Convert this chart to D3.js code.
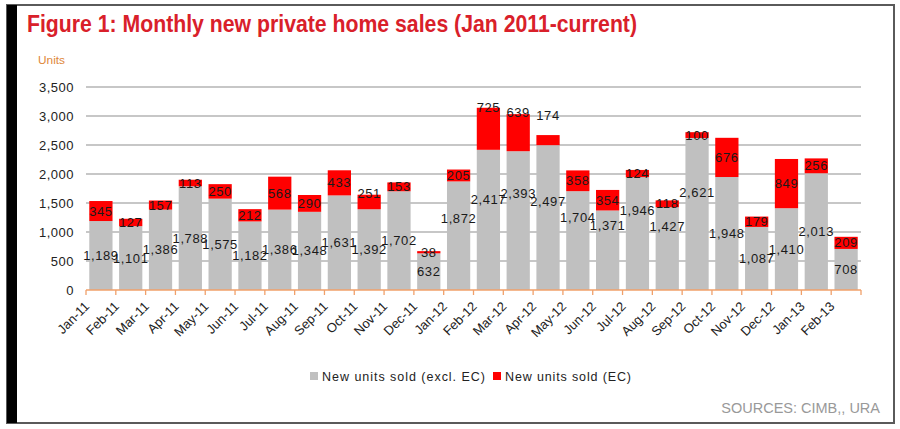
<!DOCTYPE html>
<html><head><meta charset="utf-8">
<script src="https://cdn.jsdelivr.net/npm/d3@7"></script>
<style>body{margin:0;background:#fff}svg{display:block}</style>
</head><body>
<svg id="c" width="900" height="429"></svg>
<script>
const months = ["Jan-11","Feb-11","Mar-11","Apr-11","May-11","Jun-11","Jul-11","Aug-11","Sep-11","Oct-11","Nov-11","Dec-11",
  "Jan-12","Feb-12","Mar-12","Apr-12","May-12","Jun-12","Jul-12","Aug-12","Sep-12","Oct-12","Nov-12","Dec-12","Jan-13","Feb-13"];
const exclEC = [1189,1101,1386,1788,1575,1182,1386,1348,1631,1392,1702,632,
  1872,2417,2393,2497,1704,1371,1946,1427,2621,1948,1087,1410,2013,708];
const ecUnits = [345,127,157,113,250,212,568,290,433,251,153,38,
  205,725,639,174,358,354,124,118,100,676,179,849,256,209];
const yTicks = [0,500,1000,1500,2000,2500,3000,3500];
const seriesNames = ["New units sold (excl. EC)","New units sold (EC)"];

// label nudges (px, vertical), as placed in the original chart
const grayNudge = {"Jan-12":-17,"Feb-12":-20,"Mar-12":-27,"Apr-12":-16,"May-12":-23,"Jun-12":-25,"Jul-12":-23,"Aug-12":-22,"Sep-12":-22};
const redNudge = {"Oct-11":-9,"Feb-12":-21,"Mar-12":-20,"Apr-12":-25};

const svg = d3.select("#c");
const font = "'Liberation Sans', Arial, sans-serif";
const grey = "#c0c0c0", red = "#ff0000";

// frame
svg.append("rect").attr("x",7).attr("y",5).attr("width",887).attr("height",418)
  .attr("fill","#fff").attr("stroke","#5a5a5a").attr("stroke-width",2);
svg.append("rect").attr("x",7).attr("y",5).attr("width",10).attr("height",418).attr("fill","#000");

// title
svg.append("text").attr("x",27).attr("y",32)
  .attr("font-family","'Liberation Sans Narrow', 'Liberation Sans', Arial, sans-serif")
  .attr("font-weight","bold").attr("font-size",24).attr("fill","#d9202a")
  .attr("textLength",610).attr("lengthAdjust","spacingAndGlyphs")
  .text("Figure 1: Monthly new private home sales (Jan 2011-current)");
svg.append("text").attr("x",38).attr("y",64)
  .attr("font-family",font).attr("font-size",11).attr("fill","#e0883a")
  .attr("textLength",27).attr("lengthAdjust","spacingAndGlyphs").text("Units");

const x = d3.scaleBand().domain(months).range([86,861]).paddingInner(0.22).paddingOuter(0.11);
const y = d3.scaleLinear().domain([0,3500]).range([290,87]);

// gridlines
svg.append("g").selectAll("line").data(yTicks.slice(1)).join("line")
  .attr("x1",86).attr("x2",861).attr("y1",d=>y(d)).attr("y2",d=>y(d))
  .attr("stroke","#b4b4b4").attr("stroke-width",1.3);

// y axis labels
const yAxis = d3.axisLeft(y).tickValues(yTicks).tickSize(0).tickPadding(12).tickFormat(d3.format(","));
const ga = svg.append("g").attr("transform","translate(86,0)").call(yAxis);
ga.select(".domain").remove();
ga.selectAll("text").attr("font-family",font).attr("font-size",13).attr("letter-spacing",0.5).attr("fill","#222");

const data = months.map((m,i)=>({m, a:exclEC[i], b:ecUnits[i]}));

// bars
svg.append("g").selectAll("rect").data(data).join("rect")
  .attr("x",d=>x(d.m)).attr("width",x.bandwidth())
  .attr("y",d=>y(d.a)).attr("height",d=>y(0)-y(d.a)).attr("fill",grey);
svg.append("g").selectAll("rect").data(data).join("rect")
  .attr("x",d=>x(d.m)).attr("width",x.bandwidth())
  .attr("y",d=>y(d.a+d.b)).attr("height",d=>y(d.a)-y(d.a+d.b)).attr("fill",red);

// x axis
const step = x.step();
const gx = svg.append("g");
gx.append("line").attr("x1",86).attr("x2",861).attr("y1",y(0)).attr("y2",y(0))
  .attr("stroke","#f0a06a").attr("stroke-width",1.5);
const bounds = d3.range(months.length+1).map(i=>86+i*step);
gx.selectAll("line.t").data(bounds).join("line").attr("class","t")
  .attr("x1",d=>d).attr("x2",d=>d).attr("y1",y(0)).attr("y2",y(0)+5)
  .attr("stroke","#f0a06a").attr("stroke-width",1.3);
gx.selectAll("text").data(months).join("text")
  .attr("transform",d=>`translate(${x(d)+x.bandwidth()/2-14},${y(0)+14}) rotate(-45)`)
  .attr("text-anchor","end").attr("dy","0.35em")
  .attr("font-family",font).attr("font-size",13).attr("fill","#222").text(d=>d);

// value labels
const fmt = d3.format(",");
const lab = svg.append("g").attr("font-family",font).attr("font-size",13).attr("letter-spacing",0.6)
  .attr("fill","#1a1a1a").attr("text-anchor","middle");
lab.selectAll("text.g").data(data).join("text").attr("class","g")
  .attr("x",d=>x(d.m)+x.bandwidth()/2)
  .attr("y",d=>(y(0)+y(d.a))/2+(grayNudge[d.m]||0)).attr("dy","0.35em").text(d=>fmt(d.a));
lab.selectAll("text.r").data(data).join("text").attr("class","r")
  .attr("x",d=>x(d.m)+x.bandwidth()/2)
  .attr("y",d=>(y(d.a)+y(d.a+d.b))/2+(redNudge[d.m]||0)).attr("dy","0.35em").text(d=>fmt(d.b));

// legend
const lg = svg.append("g").attr("font-family",font).attr("font-size",12.5).attr("fill","#222");
lg.append("rect").attr("x",310).attr("y",372).attr("width",8).attr("height",8).attr("fill",grey);
lg.append("text").attr("x",322).attr("y",381).attr("textLength",163).attr("lengthAdjust","spacing").text(seriesNames[0]);
lg.append("rect").attr("x",493).attr("y",372).attr("width",8).attr("height",8).attr("fill",red);
lg.append("text").attr("x",505).attr("y",381).attr("textLength",126).attr("lengthAdjust","spacing").text(seriesNames[1]);

// source
svg.append("text").attr("x",880).attr("y",413).attr("text-anchor","end")
  .attr("font-family",font).attr("font-size",14.5).attr("fill","#999").text("SOURCES: CIMB,, URA");
</script>
</body></html>
